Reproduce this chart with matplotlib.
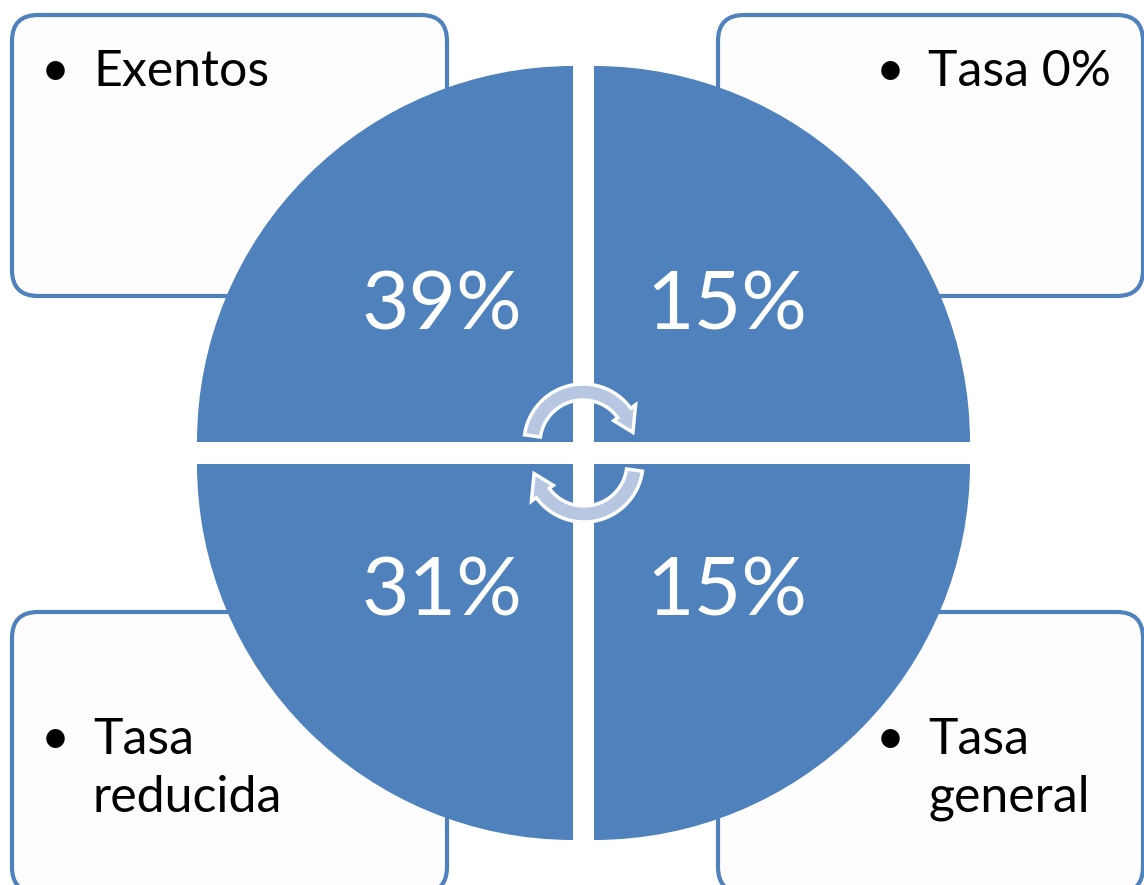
import numpy as np
import matplotlib
matplotlib.use("Agg")
import matplotlib.pyplot as plt
from matplotlib.patches import Wedge, FancyBboxPatch, Polygon

# ---- data ----
categories = ["Exentos", "Tasa 0%", "Tasa reducida", "Tasa general"]
box_lines = [["Exentos"], ["Tasa 0%"], ["Tasa", "reducida"], ["Tasa", "general"]]
values = [39, 15, 31, 15]
value_labels = [f"{v}%" for v in values]

BLUE = "#4F81BD"
ARROW = "#B7C7E2"
FONT = ["Lato", "DejaVu Sans"]

W, H = 1144, 885
fig = plt.figure(figsize=(W / 100, H / 100), dpi=100)
ax = fig.add_axes([0, 0, 1, 1])
ax.set_xlim(0, W)
ax.set_ylim(H, 0)
ax.set_aspect("equal")
ax.axis("off")

# ---- text boxes (behind the circle) ----
boxes = [(12, 15, 447, 296), (718, 15, 1143, 296),
         (12, 612, 447, 893), (718, 612, 1143, 893)]
for (x0, y0, x1, y1) in boxes:
    ax.add_patch(FancyBboxPatch((x0, y0), x1 - x0, y1 - y0,
                                boxstyle="round,pad=0,rounding_size=26",
                                facecolor="#FDFDFD", edgecolor=BLUE,
                                linewidth=3.0, zorder=1))

# ---- quadrants ----
R = 376
centers = [(573, 442), (594, 442), (573, 464), (594, 464)]
angles = [(180, 270), (270, 360), (90, 180), (0, 90)]
for (c, (a0, a1)) in zip(centers, angles):
    ax.add_patch(Wedge(c, R, a0, a1, facecolor=BLUE, edgecolor="none", zorder=2))

# ---- percentage labels ----
label_pos = [(442, 307), (727, 307), (442, 592), (727, 592)]
for (x, y), lab in zip(label_pos, value_labels):
    ax.text(x, y, lab, color="white", fontsize=59, family=FONT,
            ha="center", va="center", zorder=5)

# ---- circular arrows ----
def arc_arrow(cx, cy, th0, th1, r_in, r_out, head_in, head_out, tip_deg, flip=False):
    th = np.radians(np.linspace(th0, th1, 60))
    def pt(r, t):
        if flip:
            return (cx - r * np.cos(t), cy + r * np.sin(t))
        return (cx + r * np.cos(t), cy - r * np.sin(t))
    outer = [pt(r_out, t) for t in th]
    inner = [pt(r_in, t) for t in th[::-1]]
    te = np.radians(th1)
    tt = np.radians(th1 - tip_deg)
    rm = (r_in + r_out) / 2
    head = [pt(head_out, te), pt(rm, tt), pt(head_in, te)]
    pts = outer + head + inner
    return Polygon(pts, closed=True, facecolor=ARROW, edgecolor="white",
                   linewidth=2.5, joinstyle="miter", zorder=4)

ax.add_patch(arc_arrow(583, 443, 172, 36, 43, 59, 38, 65, 24))
ax.add_patch(arc_arrow(584, 463, 172, 36, 43, 59, 38, 65, 24, flip=True))

# ---- box labels with bullets ----
fs = 36
line_h = 58
text_pos = [(93, 72), (928, 72), (93, 740), (928, 740)]
bullet_x = [55, 890, 55, 890]
for (x, y), bx, lines in zip(text_pos, bullet_x, box_lines):
    ax.text(bx, y, "\u2022", fontsize=fs, family=FONT, ha="center", va="center",
            color="black", zorder=6)
    for i, ln in enumerate(lines):
        ax.text(x, y + i * line_h, ln, fontsize=fs, family=FONT, ha="left",
                va="center", color="black", zorder=6)

fig.savefig("out.png", dpi=100, facecolor="white")
